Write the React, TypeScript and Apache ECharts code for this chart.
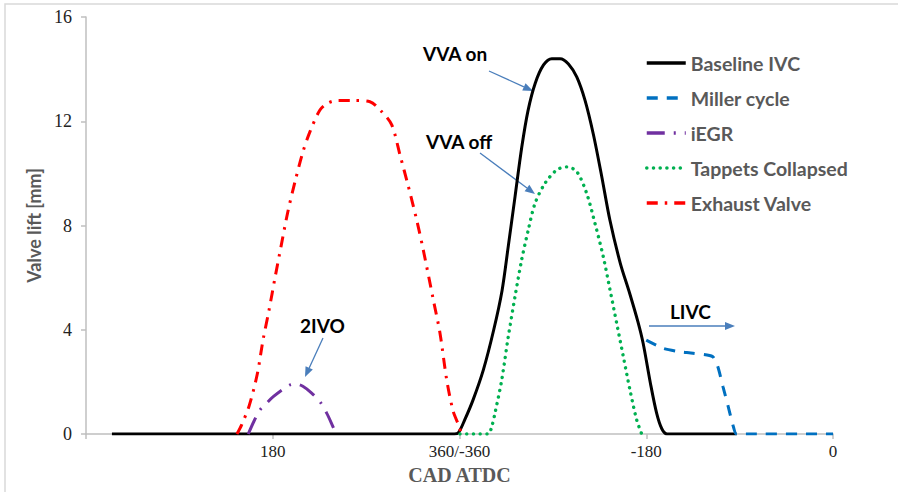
import React, { useEffect, useRef } from "react";
import * as echarts from "echarts";

// x positions are crank angle measured from the left edge of the chart (0..720),
// shown with the original tick labels below.
const xTickValues = [0, 180, 360, 540, 720];
const xTickLabels = ["", "180", "360/-360", "-180", "0"];
const yTicks = [0, 4, 8, 12, 16];

const baselineCAD = [25, 355, 359, 365, 373, 383, 393, 401, 407, 413.5, 420, 426, 433, 441, 449, 457, 465, 473, 481, 489, 497, 505, 515, 524, 532, 537, 544, 550, 555, 560, 627];
const baselineLift = [0, 0, 0.05, 0.54, 1.3, 2.46, 4.0, 5.5, 7.2, 9.1, 11.0, 12.4, 13.46, 14.16, 14.4, 14.4, 14.2, 13.7, 12.8, 11.5, 9.9, 8.2, 6.55, 5.4, 4.3, 3.48, 1.95, 0.8, 0.2, 0, 0];

const millerCAD = [540, 556, 572, 585, 604, 609, 614, 619, 624, 627, 720];
const millerLift = [3.6, 3.29, 3.16, 3.1, 2.97, 2.58, 1.81, 1.05, 0.28, 0, 0];

const iegrCAD = [156.4, 162, 167.7, 174, 180.5, 190, 198, 203, 209, 217.5, 225.5, 232, 236.5, 241];
const iegrLift = [0, 0.5, 0.92, 1.18, 1.43, 1.72, 1.9, 1.91, 1.83, 1.57, 1.24, 0.8, 0.42, 0];

const tappetsCAD = [360.5, 387.8, 390.5, 394.2, 400.7, 407, 413.5, 419.9, 426.3, 432.8, 442.4, 453.7, 463.3, 473, 482.5, 490.6, 498.6, 505.1, 511.5, 517.9, 524.3, 530.8, 535.6];
const tappetsLift = [0, 0, 0.2, 0.8, 2.07, 3.73, 5.27, 6.68, 7.83, 8.85, 9.62, 10.13, 10.25, 10.07, 9.24, 8.08, 6.8, 5.53, 4.25, 2.97, 1.69, 0.54, 0];

const exhaustCAD = [145.5, 150, 157.4, 165.1, 170.6, 176.4, 182.2, 188, 194.4, 201.4, 208.9, 215.9, 225.5, 233.3, 242.9, 257.4, 273.7, 285, 294.7, 302.7, 310.7, 318.8, 325.1, 334.8, 341.2, 347.7, 354, 359.8, 361.4];
const exhaustLift = [0, 0.35, 1.1, 2.3, 3.6, 4.75, 6.0, 7.2, 8.5, 9.67, 10.8, 11.6, 12.43, 12.7, 12.8, 12.8, 12.75, 12.37, 11.86, 10.7, 9.5, 8.2, 7.06, 5.14, 3.87, 2.07, 0.86, 0.28, 0];

const seriesNames = ["Baseline IVC", "Miller cycle", "iEGR", "Tappets Collapsed", "Exhaust Valve"];

const zip = (xs: number[], ys: number[]) => xs.map((x, i) => [x, ys[i]]);

const ARROW = "#4A7EBB";
function arrow(x1: number, y1: number, x2: number, y2: number) {
  const dx = x2 - x1, dy = y2 - y1;
  const len = Math.hypot(dx, dy);
  const ux = dx / len, uy = dy / len;
  const hl = 10, hw = 4;
  const bx = x2 - ux * hl, by = y2 - uy * hl;
  return {
    type: "group",
    silent: true,
    children: [
      { type: "line", shape: { x1, y1, x2: bx, y2: by }, style: { stroke: ARROW, lineWidth: 1.3 } },
      {
        type: "polygon",
        shape: { points: [[x2, y2], [bx - uy * hw, by + ux * hw], [bx + uy * hw, by - ux * hw]] },
        style: { fill: ARROW },
      },
    ],
  };
}

const annFont = { fontFamily: "Lato", fontWeight: "bold", fontSize: 19, fill: "#000" };

export default function App() {
  const ref = useRef<HTMLDivElement>(null);
  useEffect(() => {
    document.body.style.margin = "0";
    const chart = echarts.init(ref.current!, null, { renderer: "svg" });
    const lineBase = { type: "line", symbol: "none", smooth: 0.3, z: 2 };
    chart.setOption({
      animation: false,
      backgroundColor: "#fff",
      grid: { left: 86, right: 65, top: 17, bottom: 58, containLabel: false },
      xAxis: {
        type: "value",
        min: 0,
        max: 720,
        interval: 180,
        name: "CAD ATDC",
        nameLocation: "middle",
        nameGap: 23,
        nameTextStyle: { fontFamily: "Liberation Serif", fontWeight: "bold", fontSize: 20, color: "#595959" },
        axisLine: { lineStyle: { color: "#BFBFBF", width: 1.5 } },
        axisTick: { show: true, length: 5, lineStyle: { color: "#BFBFBF", width: 1.5 } },
        splitLine: { show: false },
        axisLabel: {
          margin: 9,
          fontFamily: "Liberation Serif",
          fontSize: 17,
          color: "#222",
          formatter: (v: number) => {
            const i = xTickValues.indexOf(v);
            return i >= 0 ? xTickLabels[i] : "";
          },
        },
      },
      yAxis: {
        type: "value",
        min: yTicks[0],
        max: yTicks[yTicks.length - 1],
        interval: 4,
        name: "Valve lift [mm]",
        nameLocation: "middle",
        nameGap: 42,
        nameTextStyle: { fontFamily: "Lato", fontWeight: "bold", fontSize: 18, color: "#595959" },
        axisLine: { show: true, lineStyle: { color: "#BFBFBF", width: 1.5 } },
        axisTick: { show: true, length: 5, lineStyle: { color: "#BFBFBF", width: 1.5 } },
        splitLine: { show: false },
        axisLabel: { margin: 14, fontFamily: "Liberation Serif", fontSize: 18, color: "#222" },
      },
      legend: {
        orient: "vertical",
        left: 645,
        top: 53,
        padding: 0,
        itemWidth: 39,
        itemHeight: 14,
        itemGap: 15,
        itemStyle: { opacity: 0, borderWidth: 0 },
        lineStyle: { width: 3.5 },
        textStyle: { fontFamily: "Lato", fontWeight: "bold", fontSize: 19.5, color: "#595959", lineHeight: 20 },
        data: seriesNames,
      },
      series: [
        {
          ...lineBase,
          name: seriesNames[0],
          data: zip(baselineCAD, baselineLift),
          lineStyle: { color: "#000", width: 3 },
          itemStyle: { color: "#000" },
        },
        {
          ...lineBase,
          name: seriesNames[1],
          smooth: 0.2,
          data: zip(millerCAD, millerLift),
          lineStyle: { color: "#0070C0", width: 3, type: [11, 9] },
          itemStyle: { color: "#0070C0" },
        },
        {
          ...lineBase,
          name: seriesNames[2],
          data: zip(iegrCAD, iegrLift),
          lineStyle: { color: "#7030A0", width: 3, type: [18, 9, 2, 9] },
          itemStyle: { color: "#7030A0" },
        },
        {
          ...lineBase,
          name: seriesNames[3],
          data: zip(tappetsCAD, tappetsLift),
          lineStyle: { color: "#00B050", width: 3.4, type: [0.1, 6.6], cap: "round" },
          itemStyle: { color: "#00B050" },
        },
        {
          ...lineBase,
          name: seriesNames[4],
          data: zip(exhaustCAD, exhaustLift),
          lineStyle: { color: "#FF0000", width: 3, type: [11, 7, 2.5, 7] },
          itemStyle: { color: "#FF0000" },
        },
      ],
      graphic: [
        {
          type: "rect",
          silent: true,
          z: -10,
          shape: { x: 5, y: 4, width: 900, height: 500 },
          style: { fill: "none", stroke: "#D9D9D9", lineWidth: 1.5 },
        },
        { type: "text", x: 423, y: 44, style: { ...annFont, text: "VVA on" } },
        arrow(489, 71, 533, 91),
        { type: "text", x: 426, y: 132, style: { ...annFont, text: "VVA off" } },
        arrow(480, 153, 535, 194),
        { type: "text", x: 300, y: 316, style: { ...annFont, text: "2IVO" } },
        arrow(323, 338, 305, 377),
        { type: "text", x: 670, y: 302, style: { ...annFont, text: "LIVC" } },
        arrow(649, 326, 735, 326),
      ],
    });
    return () => chart.dispose();
  }, []);
  return <div ref={ref} style={{ width: 898, height: 492 }} />;
}
